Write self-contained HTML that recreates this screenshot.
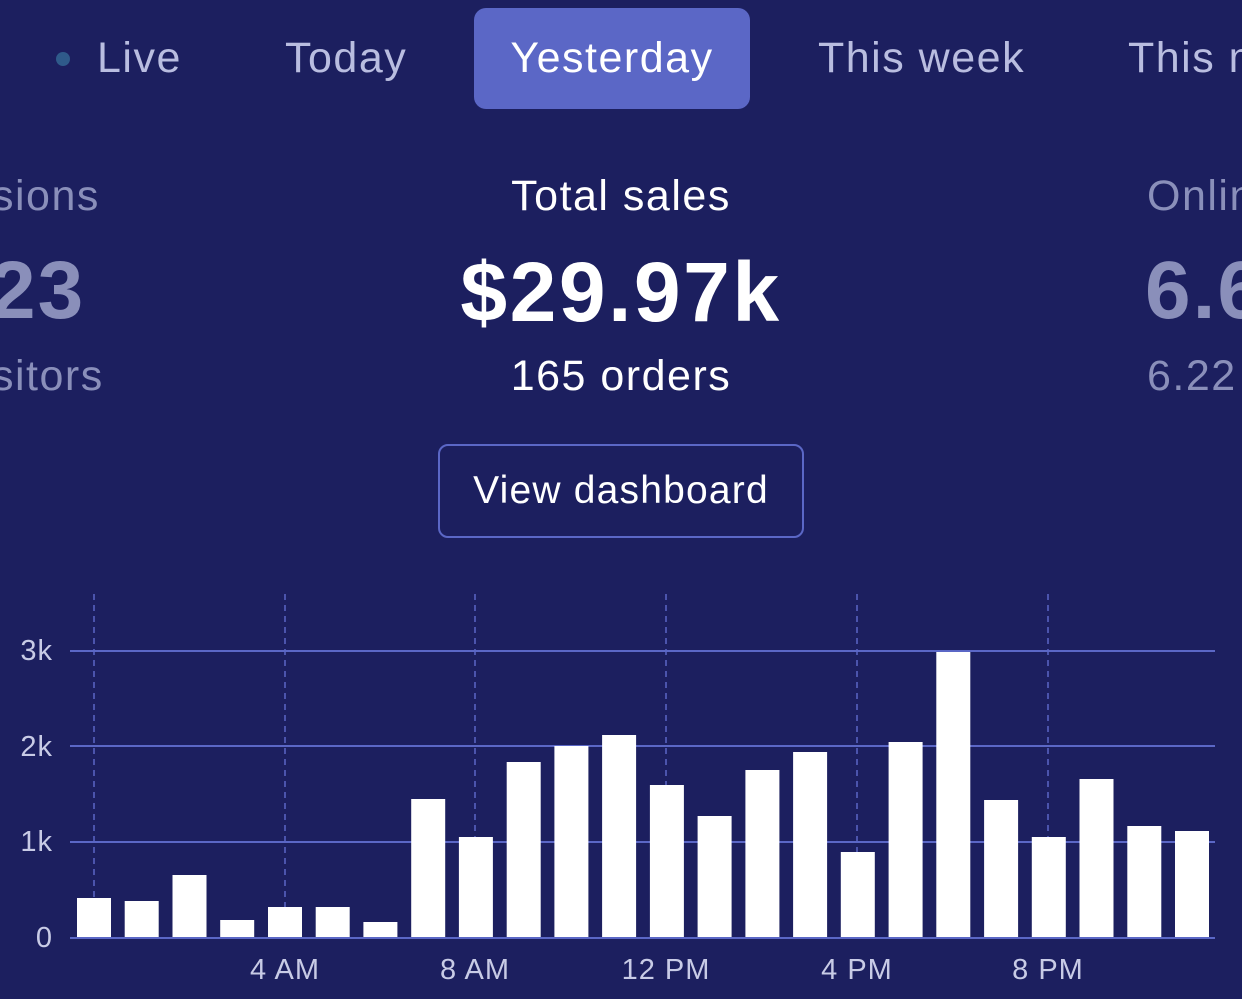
<!DOCTYPE html>
<html><head><meta charset="utf-8"><style>
html,body{margin:0;padding:0}
body{width:1242px;height:999px;background:#1c1f5f;overflow:hidden;position:relative;font-family:"Liberation Sans",sans-serif}
.t{position:absolute;white-space:nowrap}
.tab{font-size:43px;letter-spacing:1.5px}
</style></head><body>
<div class="t" style="left:56px;top:52px;width:14px;height:14px;border-radius:50%;background:#2f5a8a"></div>
<div class="t tab" style="left:97px;top:34px;color:#b9bde0">Live</div>
<div class="t tab" style="left:285px;top:34px;color:#b9bde0">Today</div>
<div class="t" style="left:474px;top:8px;width:276px;height:101px;border-radius:12px;background:#5b67c6"></div>
<div class="t tab" style="left:474px;top:34px;width:276px;text-align:center;color:#fff">Yesterday</div>
<div class="t tab" style="left:818px;top:34px;color:#b9bde0">This week</div>
<div class="t tab" style="left:1128px;top:34px;color:#b9bde0">This m</div>

<div class="t tab" style="left:-8px;top:172px;color:#8a8fba">sions</div>
<div class="t" style="left:-10px;top:244px;font-size:82px;font-weight:bold;color:#8a8fba;letter-spacing:2px">23</div>
<div class="t tab" style="left:-8px;top:352px;color:#8a8fba">sitors</div>
<div class="t tab" style="left:1147px;top:172px;color:#8a8fba">Onlin</div>
<div class="t" style="left:1145px;top:244px;font-size:82px;font-weight:bold;color:#8a8fba;letter-spacing:2px">6.6</div>
<div class="t tab" style="left:1147px;top:352px;color:#8a8fba">6.22</div>

<div class="t tab" style="left:321px;width:600px;text-align:center;top:172px;color:#fff">Total sales</div>
<div class="t" style="left:321px;width:600px;text-align:center;top:244px;font-size:84px;font-weight:bold;color:#fff;letter-spacing:2.5px">$29.97k</div>
<div class="t tab" style="left:321px;width:600px;text-align:center;top:352px;color:#fff">165 orders</div>
<div class="t" style="left:438px;top:444px;width:362px;height:90px;border:2.5px solid #5b67c6;border-radius:10px"></div>
<div class="t" style="left:438px;width:366px;text-align:center;top:469px;font-size:39px;letter-spacing:1.2px;color:#fff">View dashboard</div>

<svg class="t" style="left:0;top:0" width="1242" height="999">
<g stroke="#5b67c6" stroke-width="1.5" stroke-dasharray="6,5">
<line x1="94" y1="594" x2="94" y2="938"/><line x1="285" y1="594" x2="285" y2="938"/><line x1="475" y1="594" x2="475" y2="938"/><line x1="666" y1="594" x2="666" y2="938"/><line x1="857" y1="594" x2="857" y2="938"/><line x1="1048" y1="594" x2="1048" y2="938"/>
</g>
<g stroke="#5b67c6" stroke-width="2">
<line x1="70" y1="651" x2="1215" y2="651"/><line x1="70" y1="746" x2="1215" y2="746"/><line x1="70" y1="842" x2="1215" y2="842"/><line x1="70" y1="938" x2="1215" y2="938"/>
</g>
<g fill="#fff" id="b"></g>
<g fill="#c8cbe6" font-size="29" font-family="Liberation Sans,sans-serif" letter-spacing="1">
<text x="53" y="660" text-anchor="end">3k</text><text x="53" y="756" text-anchor="end">2k</text><text x="53" y="851" text-anchor="end">1k</text><text x="53" y="947" text-anchor="end">0</text>
<text x="285" y="979" text-anchor="middle">4 AM</text><text x="475" y="979" text-anchor="middle">8 AM</text><text x="666" y="979" text-anchor="middle">12 PM</text><text x="857" y="979" text-anchor="middle">4 PM</text><text x="1048" y="979" text-anchor="middle">8 PM</text>
</g>
</svg>
<script>
var tops=[898,901,875,920,907,907,922,799,837,762,746,735,785,816,770,752,852,742,652,800,837,779,826,831];
var g=document.getElementById('b'),s='';
tops.forEach(function(t,i){var x=77+i*47.74;s+='<rect x="'+x.toFixed(1)+'" y="'+t+'" width="34" height="'+(937-t)+'"/>';});
g.innerHTML=s;
</script>
</body></html>
